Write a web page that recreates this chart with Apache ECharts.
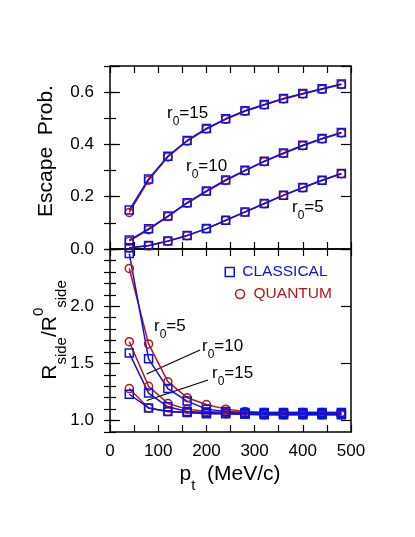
<!DOCTYPE html>
<html><head><meta charset="utf-8">
<script src="https://cdn.jsdelivr.net/npm/echarts@6/dist/echarts.min.js"></script>
<style>html,body{margin:0;padding:0;background:#fff}#c{width:415px;height:537px}</style>
</head><body><div id="c"></div>
<script>
// ---- data ----
const pt = [40, 80, 120, 160, 200, 240, 280, 320, 360, 400, 440, 480];
const escClassical5  = [0.005, 0.013, 0.031, 0.052, 0.078, 0.110, 0.142, 0.174, 0.206, 0.235, 0.263, 0.289];
const escQuantum5    = [0.004, 0.012, 0.030, 0.051, 0.077, 0.109, 0.141, 0.173, 0.205, 0.234, 0.262, 0.288];
const escClassical10 = [0.034, 0.077, 0.126, 0.177, 0.222, 0.264, 0.301, 0.336, 0.367, 0.397, 0.423, 0.446];
const escQuantum10   = [0.030, 0.074, 0.124, 0.175, 0.220, 0.262, 0.299, 0.334, 0.365, 0.395, 0.421, 0.444];
const escClassical15 = [0.149, 0.268, 0.355, 0.415, 0.461, 0.498, 0.529, 0.553, 0.576, 0.595, 0.613, 0.631];
const escQuantum15   = [0.140, 0.263, 0.352, 0.413, 0.459, 0.496, 0.527, 0.551, 0.574, 0.593, 0.611, 0.629];
const rClassical5  = [2.46, 1.54, 1.28, 1.17, 1.10, 1.08, 1.07, 1.07, 1.07, 1.07, 1.07, 1.07];
const rQuantum5    = [2.33, 1.67, 1.34, 1.20, 1.14, 1.10, 1.08, 1.07, 1.07, 1.07, 1.07, 1.07];
const rClassical10 = [1.59, 1.24, 1.12, 1.08, 1.07, 1.065, 1.06, 1.06, 1.06, 1.06, 1.06, 1.06];
const rQuantum10   = [1.69, 1.30, 1.15, 1.10, 1.08, 1.07, 1.065, 1.06, 1.06, 1.06, 1.06, 1.06];
const rClassical15 = [1.23, 1.11, 1.08, 1.07, 1.06, 1.06, 1.055, 1.05, 1.05, 1.05, 1.05, 1.05];
const rQuantum15   = [1.28, 1.11, 1.08, 1.07, 1.065, 1.06, 1.055, 1.05, 1.05, 1.05, 1.05, 1.05];
const xTicks = [0, 100, 200, 300, 400, 500];
const escTicks = [0, 0.2, 0.4, 0.6];
const ratioTicks = [1.0, 1.5, 2.0];
const ratioMajor = [1.0, 1.5, 2.0, 2.5];

// ---- styling ----
const FONT = 'Liberation Sans, Arial, Helvetica, sans-serif';
const BLUE = '#1010dd';
const RED = '#b01818';
const lineAx = {show: true, onZero: false, lineStyle: {color: '#000', width: 1.5}};

function xAx(grid, pos, labels) {
  return {
    type: 'value', gridIndex: grid, position: pos, min: 0, max: 500, interval: 50,
    axisLine: lineAx,
    axisTick: {show: true, inside: true, length: 7, lineStyle: {color: '#000', width: 1.2}},
    axisLabel: {show: labels, customValues: xTicks, margin: 11, color: '#000', fontSize: 17, fontFamily: FONT,
      formatter: v => (v % 100 === 0 ? String(v) : '')},
    splitLine: {show: false}
  };
}
function yAx(grid, pos, min, max, opts) {
  return Object.assign({
    type: 'value', gridIndex: grid, position: pos, min: min, max: max,
    axisLine: opts.line ? lineAx : {show: false},
    axisTick: {show: true, inside: true, length: opts.len, lineStyle: {color: '#000', width: 1.2}},
    axisLabel: {show: false},
    splitLine: {show: false}
  }, opts.extra || {});
}

const yAxes = [
  // grid 0 (escape probability)
  yAx(0, 'left', 0, 0.7, {line: true, len: 10, extra: {interval: 0.2,
    axisLabel: {show: true, customValues: escTicks, margin: 16, color: '#000', fontSize: 17, fontFamily: FONT,
      formatter: v => v.toFixed(1)}}}),
  yAx(0, 'left', 0, 0.7, {line: false, len: 6, extra: {interval: 0.1}}),
  yAx(0, 'right', 0, 0.7, {line: true, len: 10, extra: {interval: 0.2}}),
  yAx(0, 'right', 0, 0.7, {line: false, len: 6, extra: {interval: 0.1}}),
  // grid 1 (ratio)
  yAx(1, 'left', 0.9, 2.5, {line: true, len: 10, extra: {
    axisTick: {show: true, inside: true, length: 10, customValues: ratioMajor, lineStyle: {color: '#000', width: 1.2}},
    axisLabel: {show: true, customValues: ratioTicks, margin: 16, color: '#000', fontSize: 17, fontFamily: FONT,
      formatter: v => v.toFixed(1)}}}),
  yAx(1, 'left', 0.9, 2.5, {line: false, len: 6, extra: {interval: 0.1}}),
  yAx(1, 'right', 0.9, 2.5, {line: true, len: 10, extra: {
    axisTick: {show: true, inside: true, length: 10, customValues: ratioMajor, lineStyle: {color: '#000', width: 1.2}}}}),
  yAx(1, 'right', 0.9, 2.5, {line: false, len: 6, extra: {interval: 0.1}})
];

function ser(name, vals, color, symbol, xi, yi) {
  return {
    type: 'line', name: name, xAxisIndex: xi, yAxisIndex: yi,
    data: pt.map((x, i) => [x, vals[i]]),
    symbol: symbol, symbolSize: 8, showSymbol: true, silent: true,
    lineStyle: {color: color, width: 1.5},
    itemStyle: {color: 'rgba(0,0,0,0)', borderColor: color, borderWidth: 1.5},
    emphasis: {disabled: true}, animation: false
  };
}

const series = [
  ser('QUANTUM', escQuantum5, RED, 'circle', 0, 0),
  ser('QUANTUM', escQuantum10, RED, 'circle', 0, 0),
  ser('QUANTUM', escQuantum15, RED, 'circle', 0, 0),
  ser('CLASSICAL', escClassical5, BLUE, 'rect', 0, 0),
  ser('CLASSICAL', escClassical10, BLUE, 'rect', 0, 0),
  ser('CLASSICAL', escClassical15, BLUE, 'rect', 0, 0),
  ser('QUANTUM', rQuantum5, RED, 'circle', 2, 4),
  ser('QUANTUM', rQuantum10, RED, 'circle', 2, 4),
  ser('QUANTUM', rQuantum15, RED, 'circle', 2, 4),
  ser('CLASSICAL', rClassical5, BLUE, 'rect', 2, 4),
  ser('CLASSICAL', rClassical10, BLUE, 'rect', 2, 4),
  ser('CLASSICAL', rClassical15, BLUE, 'rect', 2, 4)
];

const annRich = {
  a: {fontSize: 17, lineHeight: 30, fontFamily: FONT, color: '#000'},
  s: {fontSize: 12, lineHeight: 13, verticalAlign: 'bottom', fontFamily: FONT, color: '#000'}
};
function ann(x, y, num) {
  return {type: 'text', x: x, y: y, silent: true,
    style: {text: '{a|r}{s|0}{a|=' + num + '}', rich: annRich, verticalAlign: 'middle', align: 'left'}};
}
const titleRich = {
  a: {fontSize: 21, lineHeight: 38, fontFamily: FONT, color: '#000'},
  s: {fontSize: 15, lineHeight: 20, verticalAlign: 'bottom', fontFamily: FONT, color: '#000'},
  p: {fontSize: 15, lineHeight: 22, verticalAlign: 'top', fontFamily: FONT, color: '#000'}
};

const chart = echarts.init(document.getElementById('c'), null, {renderer: 'canvas'});
chart.setOption({
  animation: false,
  backgroundColor: '#fff',
  grid: [
    {left: 110, top: 66, width: 241, height: 183},
    {left: 110, top: 249, width: 241, height: 183}
  ],
  xAxis: [xAx(0, 'bottom', false), xAx(0, 'top', false), xAx(1, 'bottom', true), xAx(1, 'top', false)],
  yAxis: yAxes,
  legend: [
    {data: [{name: 'CLASSICAL', icon: 'rect', itemStyle: {color: 'rgba(0,0,0,0)', borderColor: BLUE, borderWidth: 1.5}}],
     left: 224.5, top: 264, itemWidth: 9, itemHeight: 9, selectedMode: false, padding: 0,
     textStyle: {color: BLUE, fontSize: 15.5, fontFamily: FONT, padding: [0, 0, 0, 3]}},
    {data: [{name: 'QUANTUM', icon: 'circle', itemStyle: {color: 'rgba(0,0,0,0)', borderColor: RED, borderWidth: 1.5}}],
     left: 234.8, top: 286, itemWidth: 9, itemHeight: 9, selectedMode: false, padding: 0,
     textStyle: {color: RED, fontSize: 15.5, fontFamily: FONT, padding: [0, 0, 0, 4]}}
  ],
  graphic: [
    ann(167, 113, '15'), ann(186, 166, '10'), ann(292, 207, '5'),
    ann(154, 326, '5'), ann(202, 346, '10'), ann(212, 373, '15'),
    {type: 'line', silent: true, shape: {x1: 146.7, y1: 374, x2: 200, y2: 350}, style: {stroke: '#000', lineWidth: 1.2}},
    {type: 'line', silent: true, shape: {x1: 146.7, y1: 400.5, x2: 208, y2: 380}, style: {stroke: '#000', lineWidth: 1.2}},
    {type: 'text', x: 46, y: 151, rotation: Math.PI / 2, silent: true,
     style: {text: 'Escape  Prob.', fontSize: 21, fontFamily: FONT, fill: '#000', align: 'center', verticalAlign: 'middle'}},
    {type: 'text', x: 50, y: 330, rotation: Math.PI / 2, silent: true,
     style: {text: '{a|R}{s|side}{a|/R}{p|0}{s|side}', rich: titleRich, align: 'center', verticalAlign: 'middle'}},
    {type: 'text', x: 230, y: 474, silent: true,
     style: {text: '{a|p}{s|t}{a|  (MeV/c)}', rich: titleRich, align: 'center', verticalAlign: 'middle'}}
  ],
  series: series
});
</script></body></html>
